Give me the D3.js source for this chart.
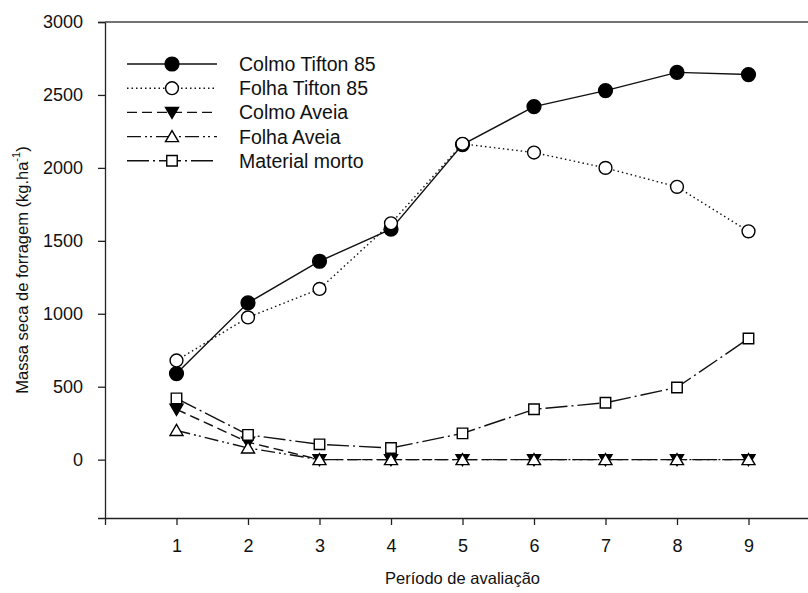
<!DOCTYPE html>
<html>
<head>
<meta charset="utf-8">
<script src="https://cdn.jsdelivr.net/npm/d3@7"></script>
<style>
  body { margin: 0; background: #fff; }
  text { font-family: "Liberation Sans", Arial, sans-serif; fill: #111; }
</style>
</head>
<body>
<div class="chart"></div>
<script>
var periods = [1, 2, 3, 4, 5, 6, 7, 8, 9];
var colmoTifton = [590, 1075, 1360, 1580, 2160, 2420, 2530, 2655, 2640];
var folhaTifton = [680, 975, 1170, 1620, 2165, 2105, 2000, 1870, 1565];
var colmoAveia = [345, 120, 0, 0, 0, 0, 0, 0, 0];
var folhaAveia = [200, 80, 0, 0, 0, 0, 0, 0, 0];
var materialMorto = [420, 170, 105, 80, 180, 345, 390, 495, 830];
var yTicks = [0, 500, 1000, 1500, 2000, 2500, 3000];

var series = [
  { name: 'Colmo Tifton 85', values: colmoTifton, dash: null, symbol: d3.symbolCircle, size: 150, fill: '#000' },
  { name: 'Colmo Aveia', values: colmoAveia, dash: '10,5', symbol: 'down', size: 0, fill: '#000' },
  { name: 'Folha Aveia', values: folhaAveia, dash: '14,4,2,3,2,4', symbol: 'up', size: 0, fill: '#fff' },
  { name: 'Material morto', values: materialMorto, dash: '22,4,2,4', symbol: d3.symbolSquare, size: 110, fill: '#fff' },
  { name: 'Folha Tifton 85', values: folhaTifton, dash: '1.5,3', symbol: d3.symbolCircle, size: 130, fill: '#fff' }
];
var legendOrder = ['Colmo Tifton 85', 'Folha Tifton 85', 'Colmo Aveia', 'Folha Aveia', 'Material morto'];

var width = 808, height = 593;
var margin = { left: 105, top: 22, bottom: 75 };

var svg = d3.select('.chart').append('svg').attr('width', width).attr('height', height);

var x = d3.scaleLinear().domain([0, 10]).range([margin.left, 820]);
var y = d3.scaleLinear().domain([-400, 3000]).range([height - margin.bottom, margin.top]);

function marker(g, s, cx, cy) {
  if (s.symbol === 'up' || s.symbol === 'down') {
    var h = s.symbol === 'up' ? -1 : 1;
    g.append('path')
      .attr('d', 'M' + (cx - 6.5) + ',' + (cy - 5 * h) + 'L' + (cx + 6.5) + ',' + (cy - 5 * h) + 'L' + cx + ',' + (cy + 6 * h) + 'Z')
      .attr('fill', s.fill).attr('stroke', '#000').attr('stroke-width', 1.4);
  } else {
    g.append('path')
      .attr('d', d3.symbol().type(s.symbol).size(s.size)())
      .attr('transform', 'translate(' + cx + ',' + cy + ')')
      .attr('fill', s.fill).attr('stroke', '#000').attr('stroke-width', 1.4);
  }
}

// axes
var yAxis = svg.append('g').attr('transform', 'translate(' + margin.left + ',0)')
  .call(d3.axisLeft(y).tickValues(yTicks).tickFormat(d3.format('d')).tickSizeOuter(0).tickSize(7).tickPadding(15));
var xAxis = svg.append('g').attr('transform', 'translate(0,' + y(-400) + ')')
  .call(d3.axisBottom(x).tickValues(periods).tickFormat(d3.format('d')).tickSizeOuter(0).tickSize(7).tickPadding(14));
[yAxis, xAxis].forEach(function(a) {
  a.selectAll('path, line').attr('stroke', '#222').attr('stroke-width', 1.3);
  a.selectAll('text').style('font-size', '18px').attr('fill', '#111');
});
svg.append('line').attr('x1', margin.left).attr('x2', width).attr('y1', margin.top).attr('y2', margin.top)
  .attr('stroke', '#444').attr('stroke-width', 1.6);

svg.append('text').attr('transform', 'translate(22,' + y(1300) + ') rotate(-90)')
  .attr('text-anchor', 'middle').attr('dominant-baseline', 'central').style('font-size', '16.5px')
  .html('Massa seca de forragem (kg.ha<tspan dy="-6" font-size="11px">-1</tspan><tspan dy="6">)</tspan>');
svg.append('text').attr('x', x(5)).attr('y', 584).attr('text-anchor', 'middle')
  .style('font-size', '16.5px').text('Período de avaliação');

// series
var line = d3.line().x(function(d, i) { return x(periods[i]); }).y(function(d) { return y(d); });
series.forEach(function(s) {
  var g = svg.append('g');
  g.append('path').datum(s.values).attr('d', line).attr('fill', 'none')
    .attr('stroke', '#111').attr('stroke-width', 1.4).attr('stroke-dasharray', s.dash);
  s.values.forEach(function(v, i) { marker(g, s, x(periods[i]), y(v)); });
});

// legend
legendOrder.forEach(function(name, i) {
  var s = series.filter(function(d) { return d.name === name; })[0];
  var ly = 64 + i * 24.2;
  var g = svg.append('g');
  g.append('line').attr('x1', 127).attr('x2', 217).attr('y1', ly).attr('y2', ly)
    .attr('stroke', '#111').attr('stroke-width', 1.4).attr('stroke-dasharray', s.dash);
  marker(g, s, 172, ly);
  g.append('text').attr('x', 239).attr('y', ly).attr('dominant-baseline', 'central')
    .style('font-size', '19.5px').text(name);
});
</script>
</body>
</html>
